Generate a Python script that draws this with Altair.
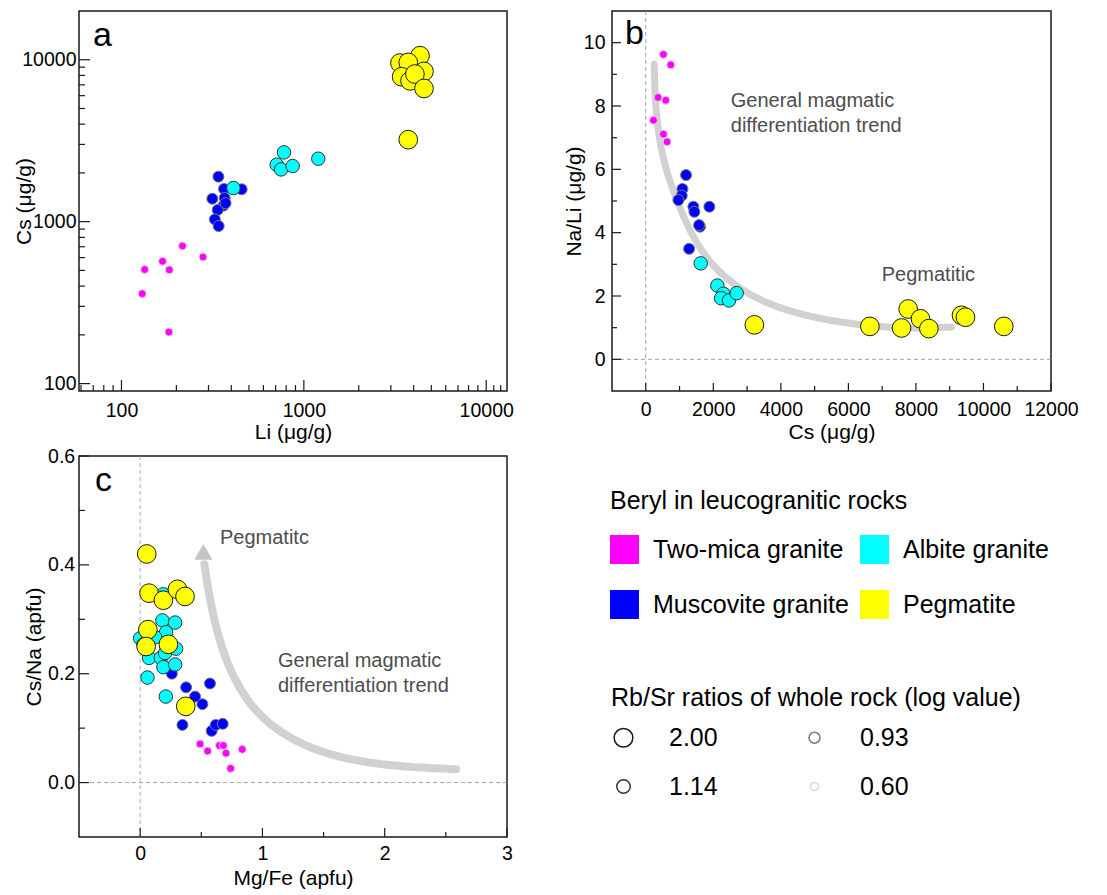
import altair as alt
import pandas as pd

FONT = "Liberation Sans"

# ---------------- categories / legend ----------------
groups = ["Two-mica granite", "Muscovite granite", "Albite granite", "Pegmatite"]
group_colors = ["#ff00ff", "#0000ff", "#00ffff", "#ffff00"]
group_rbsr = ["0.60", "0.93", "1.14", "2.00"]
rbsr_order = ["2.00", "1.14", "0.93", "0.60"]
rbsr_sizes = [350, 182, 121, 64]
rbsr_strokes = ["#1a1a1a", "#333333", "#7a7a7a", "#d9d9d9"]

# ---------------- panel a : Li vs Cs (log-log) ----------------
a_two_li = [134, 168, 183, 216, 280, 130, 182]
a_two_cs = [506, 569, 504, 708, 605, 359, 208]
a_mus_li = [340, 315, 365, 368, 362, 337, 325, 341, 456, 372]
a_mus_cs = [1897, 1386, 1592, 1400, 1256, 1181, 1033, 940, 1585, 1300]
a_alb_li = [411, 778, 710, 750, 868, 1200]
a_alb_cs = [1614, 2679, 2249, 2103, 2206, 2448]
a_peg_li = [3737, 4335, 3365, 3737, 3436, 3820, 4558, 4064, 4558]
a_peg_cs = [3208, 10590, 9540, 9630, 7853, 7410, 8470, 8160, 6650]
a_x_major = [100, 1000, 10000]
a_x_minor = [60, 70, 80, 90, 200, 300, 400, 500, 600, 700, 800, 900,
             2000, 3000, 4000, 5000, 6000, 7000, 8000, 9000, 11000, 12000]
a_y_major = [100, 1000, 10000]
a_y_minor = [200, 300, 400, 500, 600, 700, 800, 900,
             2000, 3000, 4000, 5000, 6000, 7000, 8000, 9000]

# ---------------- panel b : Cs vs Na/Li ----------------
b_two_cs = [523, 740, 365, 592, 227, 523, 631]
b_two_nl = [9.63, 9.30, 8.27, 8.18, 7.55, 7.11, 6.87]
b_mus_cs = [1193, 1085, 1065, 966, 1410, 1440, 1884, 1607, 1578, 1282]
b_mus_nl = [5.82, 5.38, 5.17, 5.03, 4.82, 4.66, 4.82, 4.19, 4.24, 3.49]
b_alb_cs = [1627, 2120, 2298, 2229, 2465, 2692]
b_alb_nl = [3.03, 2.33, 2.07, 1.93, 1.86, 2.09]
b_peg_cs = [3215, 6637, 7574, 7771, 8136, 8383, 9349, 9467, 10602]
b_peg_nl = [1.09, 1.04, 0.99, 1.59, 1.28, 0.97, 1.39, 1.33, 1.04]
b_trend_cs = [250, 276, 375, 523, 769, 1114, 1509, 2002, 2692, 3481, 4467, 5651, 6933, 8215, 9053]
b_trend_nl = [9.32, 8.16, 7.11, 6.27, 5.43, 4.49, 3.64, 2.91, 2.28, 1.81, 1.44, 1.18, 1.02, 0.97, 1.02]
b_text = ["General magmatic", "differentiation trend", "Pegmatitic"]
b_text_cs = [2517, 2517, 6988]
b_text_nl = [8.16, 7.37, 2.66]
b_x_major = [0, 2000, 4000, 6000, 8000, 10000, 12000]
b_x_minor = [1000, 3000, 5000, 7000, 9000, 11000]
b_y_major = [0, 2, 4, 6, 8, 10]
b_y_minor = [1, 3, 5, 7, 9]

# ---------------- panel c : Mg/Fe vs Cs/Na ----------------
c_two_mf = [0.49, 0.552, 0.648, 0.680, 0.702, 0.740, 0.835]
c_two_cn = [0.071, 0.058, 0.068, 0.068, 0.054, 0.026, 0.061]
c_mus_mf = [0.259, 0.376, 0.449, 0.509, 0.571, 0.346, 0.585, 0.618, 0.675]
c_mus_cn = [0.200, 0.175, 0.158, 0.144, 0.182, 0.106, 0.095, 0.106, 0.108]
c_alb_mf = [0.19, 0.182, 0.286, 0.212, 0.0, 0.122, 0.073, 0.169, 0.204, 0.294, 0.19, 0.286, 0.06, 0.21, 0.027]
c_alb_cn = [0.346, 0.298, 0.294, 0.276, 0.265, 0.267, 0.229, 0.229, 0.238, 0.246, 0.212, 0.217, 0.193, 0.158, 0.254]
c_peg_mf = [0.054, 0.073, 0.19, 0.305, 0.367, 0.063, 0.049, 0.231, 0.373]
c_peg_cn = [0.420, 0.348, 0.335, 0.355, 0.342, 0.281, 0.250, 0.254, 0.140]
c_trend_mf = [2.585, 2.286, 2.014, 1.741, 1.469, 1.252, 1.061, 0.898, 0.762, 0.667, 0.599, 0.550, 0.525]
c_trend_cn = [0.0246, 0.0271, 0.032, 0.0412, 0.0566, 0.0782, 0.1058, 0.1428, 0.192, 0.247, 0.303, 0.364, 0.401]
c_head_mf = [0.517]
c_head_cn = [0.424]
c_text = ["Pegmatitc", "General magmatic", "differentiation trend"]
c_text_mf = [0.653, 1.127, 1.127]
c_text_cn = [0.450, 0.223, 0.177]
c_x_major = [0, 1, 2, 3]
c_x_minor = [0.5, 1.5, 2.5]
c_y_major = [0.0, 0.2, 0.4, 0.6]
c_y_minor = [0.1, 0.3, 0.5]

# ---------------- shared scales / legends ----------------
color_scale = alt.Scale(domain=groups, range=group_colors)
size_scale = alt.Scale(type="ordinal", domain=rbsr_order, range=rbsr_sizes)
stroke_scale = alt.Scale(domain=rbsr_order, range=rbsr_strokes)

color_legend = alt.Legend(
    title="Beryl in leucogranitic rocks", orient="none", legendX=531, legendY=478,
    columns=2, symbolType="square", symbolSize=841, symbolStrokeWidth=0,
    labelFontSize=25, titleFontSize=25, titleFontWeight="normal",
    labelFont=FONT, titleFont=FONT, labelColor="#000", titleColor="#000",
    columnPadding=11, rowPadding=26, labelOffset=14, titlePadding=21,
    labelLimit=400, titleLimit=600, padding=0, symbolOpacity=1)

size_legend = alt.Legend(
    title="Rb/Sr ratios of whole rock (log value)", orient="none", legendX=532, legendY=675,
    columns=2, symbolType="circle", symbolFillColor="transparent", symbolStrokeWidth=1.5,
    labelFontSize=25, titleFontSize=25, titleFontWeight="normal",
    labelFont=FONT, titleFont=FONT, labelColor="#000", titleColor="#000",
    columnPadding=84, rowPadding=23, labelOffset=33, titlePadding=14,
    labelLimit=400, titleLimit=600, padding=0, symbolOpacity=1)


def points_df(series):
    rows = []
    for g, xs, ys in series:
        r = group_rbsr[groups.index(g)]
        for xv, yv in zip(xs, ys):
            rows.append({"x": xv, "y": yv, "group": g, "rbsr": r})
    return pd.DataFrame(rows)


def points(df, xs, ys, xa, ya):
    return alt.Chart(df).mark_circle(opacity=1, strokeWidth=1).encode(
        x=alt.X("x:Q", scale=xs, axis=xa),
        y=alt.Y("y:Q", scale=ys, axis=ya),
        color=alt.Color("group:N", scale=color_scale, legend=color_legend),
        size=alt.Size("rbsr:O", scale=size_scale, legend=size_legend),
        stroke=alt.Stroke("rbsr:O", scale=stroke_scale, legend=size_legend),
    )


def xticks(vals, xs, xa, h, length):
    return alt.Chart(pd.DataFrame({"v": vals})).mark_rule(color="#1a1a1a", strokeWidth=1.2).encode(
        x=alt.X("v:Q", scale=xs, axis=xa), y=alt.value(h), y2=alt.value(h - length))


def yticks(vals, ys, ya, length):
    return alt.Chart(pd.DataFrame({"v": vals})).mark_rule(color="#1a1a1a", strokeWidth=1.2).encode(
        y=alt.Y("v:Q", scale=ys, axis=ya), x=alt.value(0), x2=alt.value(length))


def vline(v, xs, xa, color):
    return alt.Chart(pd.DataFrame({"v": [v]})).mark_rule(
        strokeDash=[4, 3], strokeWidth=0.8, color=color).encode(x=alt.X("v:Q", scale=xs, axis=xa))


def hline(v, ys, ya, color):
    return alt.Chart(pd.DataFrame({"v": [v]})).mark_rule(
        strokeDash=[4, 3], strokeWidth=0.8, color=color).encode(y=alt.Y("v:Q", scale=ys, axis=ya))


def trend(xv, yv, xs, ys, xa, ya, width):
    df = pd.DataFrame({"x": xv, "y": yv, "i": list(range(len(xv)))})
    return alt.Chart(df).mark_line(interpolate="basis", strokeWidth=width, color="#c9c9c9",
                                   strokeCap="round", opacity=0.85).encode(
        x=alt.X("x:Q", scale=xs, axis=xa), y=alt.Y("y:Q", scale=ys, axis=ya), order="i:Q")


def notes(texts, xv, yv, xs, ys, xa, ya):
    df = pd.DataFrame({"t": texts, "x": xv, "y": yv})
    return alt.Chart(df).mark_text(align="left", baseline="middle", fontSize=20,
                                   color="#4d4d4d", font=FONT).encode(
        x=alt.X("x:Q", scale=xs, axis=xa), y=alt.Y("y:Q", scale=ys, axis=ya), text="t:N")


def letter(ch, dx, dy):
    return alt.Chart(pd.DataFrame({"t": [ch]})).mark_text(
        align="left", baseline="alphabetic", fontSize=34, font=FONT, color="#000").encode(
        x=alt.value(dx), y=alt.value(dy), text="t:N")


# ---------------- panel a ----------------
WA, HA = 428, 380
xs_a = alt.Scale(type="log", domain=[58.5, 13000], nice=False)
ys_a = alt.Scale(type="log", domain=[90, 20000], nice=False)
xa_a = alt.Axis(title="Li (μg/g)", values=a_x_major, format="d", labelPadding=10, titleY=30.5)
ya_a = alt.Axis(title="Cs (μg/g)", values=a_y_major, format="d", labelPadding=3, titleX=-45)
df_a = points_df([("Two-mica granite", a_two_li, a_two_cs),
                  ("Muscovite granite", a_mus_li, a_mus_cs),
                  ("Albite granite", a_alb_li, a_alb_cs),
                  ("Pegmatite", a_peg_li, a_peg_cs)])
pa = alt.layer(
    points(df_a, xs_a, ys_a, xa_a, ya_a),
    xticks(a_x_major, xs_a, xa_a, HA, 11), xticks(a_x_minor, xs_a, xa_a, HA, 6),
    yticks(a_y_major, ys_a, ya_a, 11), yticks(a_y_minor, ys_a, ya_a, 6),
    letter("a", 14, 35),
).properties(width=WA, height=HA)

# ---------------- panel b ----------------
WB, HB = 439, 380
xs_b = alt.Scale(domain=[-1000, 12000], nice=False, zero=False)
ys_b = alt.Scale(domain=[-1, 11], nice=False, zero=False)
xa_b = alt.Axis(title="Cs (μg/g)", values=b_x_major, format="d", labelPadding=9.3, titleY=30.5)
ya_b = alt.Axis(title="Na/Li (μg/g)", values=b_y_major, format="d", labelPadding=7, titleX=-28)
df_b = points_df([("Two-mica granite", b_two_cs, b_two_nl),
                  ("Muscovite granite", b_mus_cs, b_mus_nl),
                  ("Albite granite", b_alb_cs, b_alb_nl),
                  ("Pegmatite", b_peg_cs, b_peg_nl)])
pb = alt.layer(
    vline(0, xs_b, xa_b, "#8a8a8a"), hline(0, ys_b, ya_b, "#8a8a8a"),
    trend(b_trend_cs, b_trend_nl, xs_b, ys_b, xa_b, ya_b, 7),
    xticks(b_x_major, xs_b, xa_b, HB, 8), xticks(b_x_minor, xs_b, xa_b, HB, 5),
    yticks(b_y_major, ys_b, ya_b, 9), yticks(b_y_minor, ys_b, ya_b, 5),
    points(df_b, xs_b, ys_b, xa_b, ya_b),
    notes(b_text, b_text_cs, b_text_nl, xs_b, ys_b, xa_b, ya_b),
    letter("b", 13, 33),
).properties(width=WB, height=HB)

# ---------------- panel c ----------------
WC, HC = 428, 381
xs_c = alt.Scale(domain=[-0.5, 3], nice=False, zero=False)
ys_c = alt.Scale(domain=[-0.1, 0.6], nice=False, zero=False)
xa_c = alt.Axis(title="Mg/Fe (apfu)", values=c_x_major, format="d", labelPadding=7.6, titleY=30.5)
ya_c = alt.Axis(title="Cs/Na (apfu)", values=c_y_major, format=".1f", labelPadding=4.3, titleX=-35)
df_c = points_df([("Two-mica granite", c_two_mf, c_two_cn),
                  ("Muscovite granite", c_mus_mf, c_mus_cn),
                  ("Albite granite", c_alb_mf, c_alb_cn),
                  ("Pegmatite", c_peg_mf, c_peg_cn)])
head = alt.Chart(pd.DataFrame({"x": c_head_mf, "y": c_head_cn})).mark_point(
    shape="triangle-up", filled=True, size=330, color="#c4c4c4", opacity=1).encode(
    x=alt.X("x:Q", scale=xs_c, axis=xa_c), y=alt.Y("y:Q", scale=ys_c, axis=ya_c))
pc = alt.layer(
    vline(0, xs_c, xa_c, "#9a9ab4"), hline(0, ys_c, ya_c, "#8a8a8a"),
    trend(c_trend_mf, c_trend_cn, xs_c, ys_c, xa_c, ya_c, 8), head,
    xticks(c_x_major, xs_c, xa_c, HC, 9), xticks(c_x_minor, xs_c, xa_c, HC, 5),
    yticks(c_y_major, ys_c, ya_c, 10), yticks(c_y_minor, ys_c, ya_c, 6),
    points(df_c, xs_c, ys_c, xa_c, ya_c),
    notes(c_text, c_text_mf, c_text_cn, xs_c, ys_c, xa_c, ya_c),
    letter("c", 16, 35),
).properties(width=WC, height=HC)

chart = alt.concat(
    pa, pb, pc, columns=2, bounds="flush",
    spacing=alt.RowColnumber(row=65, column=105),
).properties(
    padding={"left": 12, "top": 9, "right": 5, "bottom": 2}
).configure(font=FONT).configure_view(
    stroke="#1a1a1a", strokeWidth=1.5
).configure_axis(
    labelFont=FONT, titleFont=FONT, labelColor="#000", titleColor="#000",
    titleFontWeight="normal", grid=False, ticks=False, tickSize=0, domain=False,
    labelFontSize=19.5, titleFontSize=21, labelFlush=False, labelOverlap=False
)

chart.save("out.html", embed_options={"renderer": "svg", "actions": False})
